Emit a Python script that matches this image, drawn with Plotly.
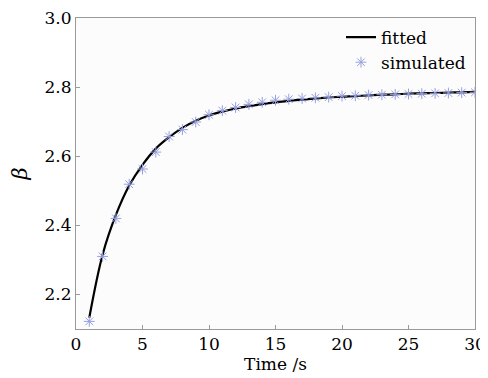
import plotly.graph_objects as go

time_s = list(range(1, 31))
beta_simulated = [2.122, 2.310, 2.420, 2.519, 2.563, 2.612, 2.657, 2.677, 2.699, 2.720,
                  2.732, 2.741, 2.750, 2.756, 2.762, 2.765, 2.767, 2.769, 2.771, 2.774,
                  2.775, 2.777, 2.778, 2.779, 2.780, 2.781, 2.782, 2.783, 2.784, 2.785]
beta_fitted = [2.133, 2.315, 2.430, 2.515, 2.575, 2.622, 2.655, 2.682, 2.703, 2.718,
               2.729, 2.738, 2.745, 2.751, 2.756, 2.760, 2.764, 2.767, 2.770, 2.772,
               2.774, 2.776, 2.778, 2.779, 2.781, 2.782, 2.783, 2.784, 2.785, 2.786]
x_ticks = [0, 5, 10, 15, 20, 25, 30]
y_ticks = [2.2, 2.4, 2.6, 2.8, 3.0]

FONT = "DejaVu Serif"

fig = go.Figure()
fig.add_trace(go.Scatter(
    x=time_s, y=beta_fitted, mode="lines", name="fitted",
    line=dict(color="black", width=2.2, shape="spline"),
))
fig.add_trace(go.Scatter(
    x=time_s, y=beta_simulated, mode="markers", name="simulated",
    marker=dict(symbol="asterisk-open", size=9, color="rgb(150,160,222)",
                line=dict(width=1, color="rgb(150,160,222)")),
))

axis_common = dict(
    showline=True, linecolor="#9a9a9a", linewidth=1, mirror=True,
    ticks="inside", ticklen=4, tickcolor="#9a9a9a", showgrid=False, zeroline=False,
    ticklabeloverflow="allow",
    tickfont=dict(family=FONT, size=17, color="black"),
)

# page body has an 8px margin; figure sized so plot area lands at the reference spot
fig.update_layout(
    width=480, height=370,
    margin=dict(l=64, r=13, t=10, b=49),
    paper_bgcolor="white", plot_bgcolor="#fcfcfc",
    font=dict(family=FONT, size=17, color="black"),
    showlegend=True,
    legend=dict(x=0.99, y=0.995, xanchor="right", yanchor="top",
                bgcolor="rgba(0,0,0,0)", font=dict(family=FONT, size=17),
                tracegroupgap=0, itemwidth=30),
    xaxis=dict(range=[0, 30], tickvals=x_ticks, automargin="bottom",
               title=dict(text="Time /s", standoff=2, font=dict(family=FONT, size=17)),
               **axis_common),
    yaxis=dict(range=[2.1, 3.0], tickvals=y_ticks, tickformat=".1f", automargin="left",
               title=dict(text="<i>β</i>", standoff=12, font=dict(family=FONT, size=21)),
               **axis_common),
)

fig.write_html("out.html")
